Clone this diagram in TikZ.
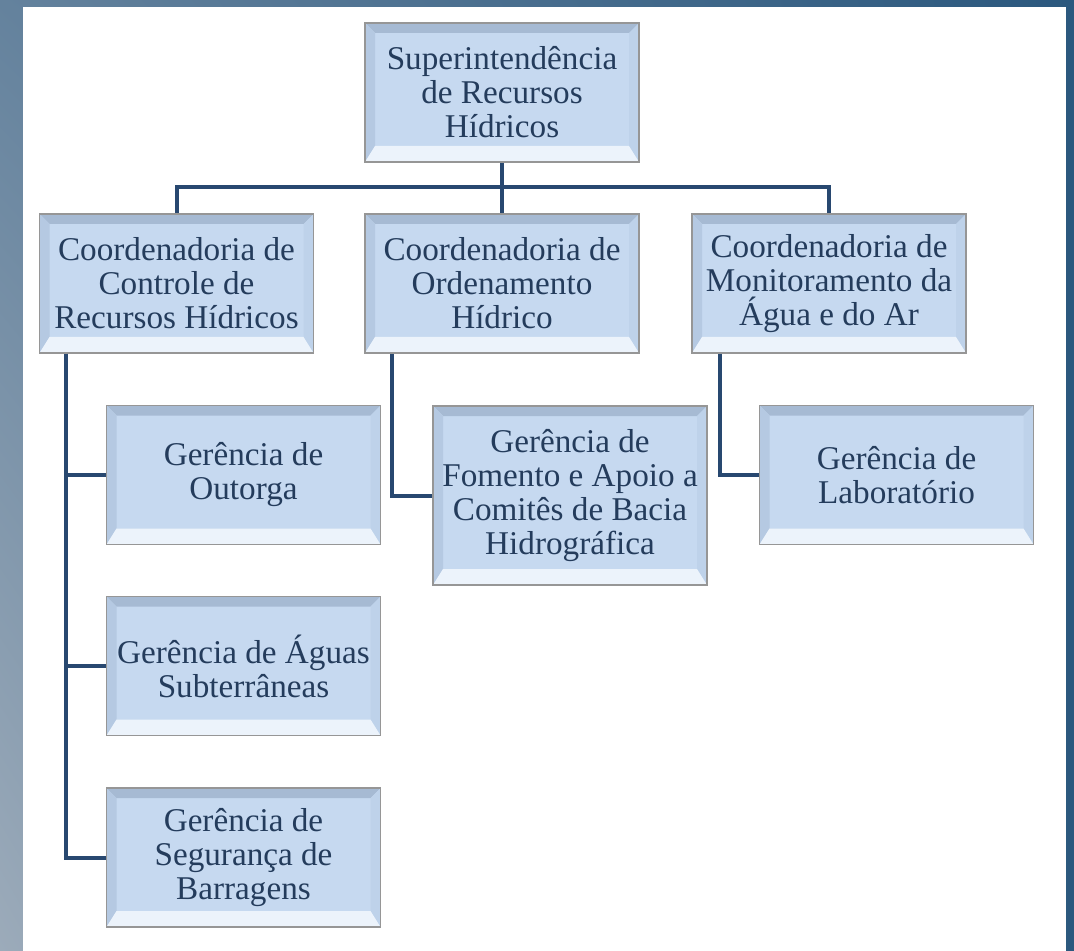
\documentclass[tikz,border=0pt]{standalone}
\usepackage{fontspec}
\setmainfont{Liberation Serif}
\usetikzlibrary{shadings}

\definecolor{boxfill}{RGB}{198,217,240}
\definecolor{bevtop}{RGB}{166,186,211}
\definecolor{bevleft}{RGB}{181,201,226}
\definecolor{bevright}{RGB}{190,210,234}
\definecolor{bevbot}{RGB}{236,243,251}
\definecolor{boxedge}{RGB}{150,150,150}
\definecolor{txtblue}{RGB}{36,60,92}
\definecolor{linkblue}{RGB}{40,72,112}
\definecolor{frameA}{RGB}{100,130,157}
\definecolor{frameB}{RGB}{43,88,126}
\definecolor{frameC}{RGB}{156,171,186}

\tikzset{
  unit/.style={draw=boxedge, line width=0.8pt, fill=boxfill, text=txtblue,
    align=center, inner sep=0pt, minimum width=137pt, minimum height=69.5pt,
    font=\fontsize{16.6}{17}\selectfont,
    path picture={
      \fill[bevtop] (path picture bounding box.north west) -- (path picture bounding box.north east)
        -- ([shift={(-5pt,-5pt)}]path picture bounding box.north east)
        -- ([shift={(5pt,-5pt)}]path picture bounding box.north west) -- cycle;
      \fill[bevleft] (path picture bounding box.north west) -- (path picture bounding box.south west)
        -- ([shift={(5pt,8pt)}]path picture bounding box.south west)
        -- ([shift={(5pt,-5pt)}]path picture bounding box.north west) -- cycle;
      \fill[bevright] (path picture bounding box.north east) -- (path picture bounding box.south east)
        -- ([shift={(-5pt,8pt)}]path picture bounding box.south east)
        -- ([shift={(-5pt,-5pt)}]path picture bounding box.north east) -- cycle;
      \fill[bevbot] (path picture bounding box.south west) -- (path picture bounding box.south east)
        -- ([shift={(-5pt,8pt)}]path picture bounding box.south east)
        -- ([shift={(5pt,8pt)}]path picture bounding box.south west) -- cycle;
    }},
  link/.style={draw=linkblue, line width=2pt},
}

\begin{document}
\begin{tikzpicture}[x=0.5pt, y=-0.5pt]
    \useasboundingbox (0,0) rectangle (1074,951);
    % frame
    \shade[upper left=frameA, upper right=frameB, lower left=frameC, lower right=frameB] (0,0) rectangle (1074,951);
    \fill[white] (23,7) rectangle (1066,951);

    \node[unit] (sup) at (502,92.5) {Superintendência\\de Recursos\\Hídricos};

    \node[unit] (ccontrole) at (176.5,283.5) {Coordenadoria de\\Controle de\\Recursos Hídricos};
    \node[unit] (cordena) at (502,283.5) {Coordenadoria de\\Ordenamento\\Hídrico};
    \node[unit] (cmonit) at (829,283.5) {Coordenadoria de\\Monitoramento da\\Água e do Ar};

    \node[unit] (goutorga) at (243.5,475) {Gerência de\\Outorga};
    \node[unit] (gaguas) at (243.5,666) {Gerência de Águas\\Subterrâneas};
    \node[unit] (gseg) at (243.5,857.5) {Gerência de\\Segurança de\\Barragens};
    \node[unit, minimum height=89.5pt] (gfomento) at (570,495.5) {Gerência de\\Fomento e Apoio a\\Comitês de Bacia\\Hidrográfica};
    \node[unit] (glab) at (896.5,475) {Gerência de\\Laboratório};

    % connectors
    \coordinate (hub) at (502,187);
    \draw[link] (sup) -- (hub);
    \draw[link] (ccontrole.north) |- (hub) -| (cmonit.north);
    \draw[link] (hub) -- (cordena.north);
    \draw[link] ([xshift=13.5pt]ccontrole.south west) |- (goutorga.west);
    \draw[link] ([xshift=13.5pt]ccontrole.south west) |- (gaguas.west);
    \draw[link] ([xshift=13.5pt]ccontrole.south west) |- (gseg.west);
    \draw[link] ([xshift=14pt]cordena.south west) |- (gfomento.west);
    \draw[link] ([xshift=14.5pt]cmonit.south west) |- (glab.west);
\end{tikzpicture}
\end{document}
